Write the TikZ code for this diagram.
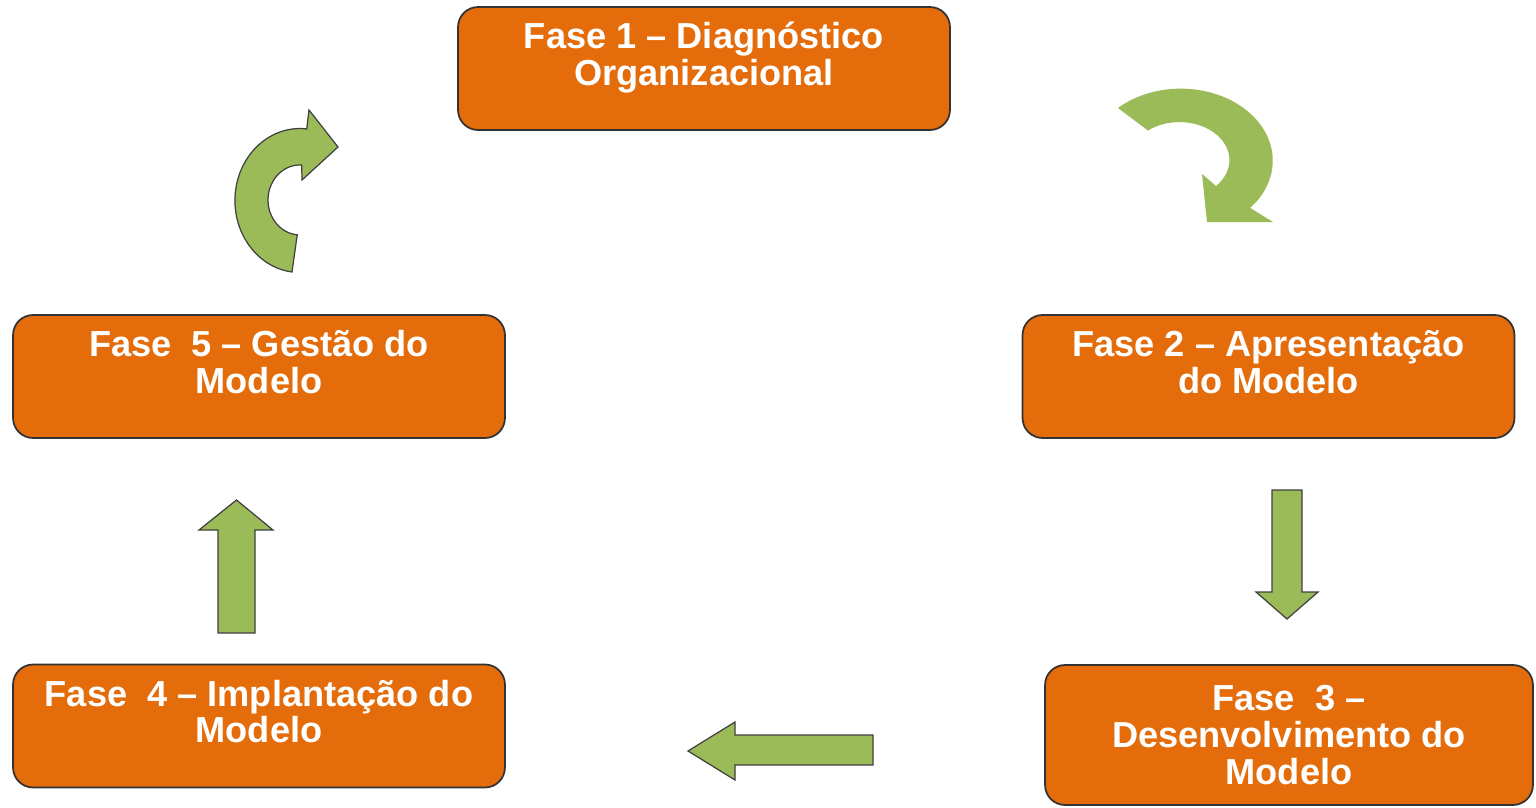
\documentclass[tikz,border=0pt]{standalone}
\usepackage{fontspec}
\setmainfont{Liberation Sans}
\usetikzlibrary{positioning}
\definecolor{faseorange}{HTML}{E46C0A}
\definecolor{setagreen}{HTML}{9BBB59}

\begin{document}
\begin{tikzpicture}[x=0.02cm, y=-0.02cm, fase/.style={rectangle, rounded corners=0.4cm, draw=black!80, line width=1pt, fill=faseorange, text=white, font=\fontsize{20.6}{20.8}\selectfont\bfseries, align=center, minimum width=9.84cm, minimum height=2.46cm, inner sep=2pt}, seta/.style={draw=black!75, line width=0.7pt, fill=setagreen}]

    \useasboundingbox (0,0) rectangle (1536,808);

    % fases
    \node[fase] (F1) at (704,68.5) {Fase 1 – Diagnóstico\\Organizacional\\[-4pt]\mbox{}};
    \node[fase] (F2) at (1268.5,376.5) {Fase 2 – Apresentação\\do Modelo\\[-4pt]\mbox{}};
    \node[fase, minimum width=9.76cm, minimum height=2.8cm] (F3) at (1289,735) {Fase~~3 –\\Desenvolvimento do\\Modelo};
    \node[fase] (F4) at (259,726) {Fase~~4 – Implantação do\\Modelo\\[-4pt]\mbox{}};
    \node[fase] (F5) at (259,376.5) {Fase~~5 – Gestão do\\Modelo\\[-4pt]\mbox{}};

    % setas retas
    \draw[seta] (1272,490) -- (1302,490) -- (1302,592) -- (1318,592) -- (1287,619) -- (1256,592) -- (1272,592) -- cycle;
    \draw[seta] (873,735) -- (735,735) -- (735,722) -- (688,751) -- (735,780) -- (735,765) -- (873,765) -- cycle;
    \draw[seta] (218,633) -- (218,530) -- (199,530) -- (236.5,500) -- (273,530) -- (255,530) -- (255,633) -- cycle;

    % setas curvas
    \fill[setagreen] (1118,108) arc[start angle=227, end angle=401, x radius=92, y radius=72] -- (1273,222) -- (1207,222) -- (1202,174) -- (1216,186) arc[start angle=403, end angle=231, x radius=50, y radius=38] -- cycle;
    \draw[seta] (292,272) arc[start angle=97, end angle=276, x radius=65, y radius=72] -- (309,110) -- (338,147) -- (302,180) -- (301.7,165) arc[start angle=273, end angle=95, x radius=32, y radius=35] -- cycle;

\end{tikzpicture}
\end{document}
